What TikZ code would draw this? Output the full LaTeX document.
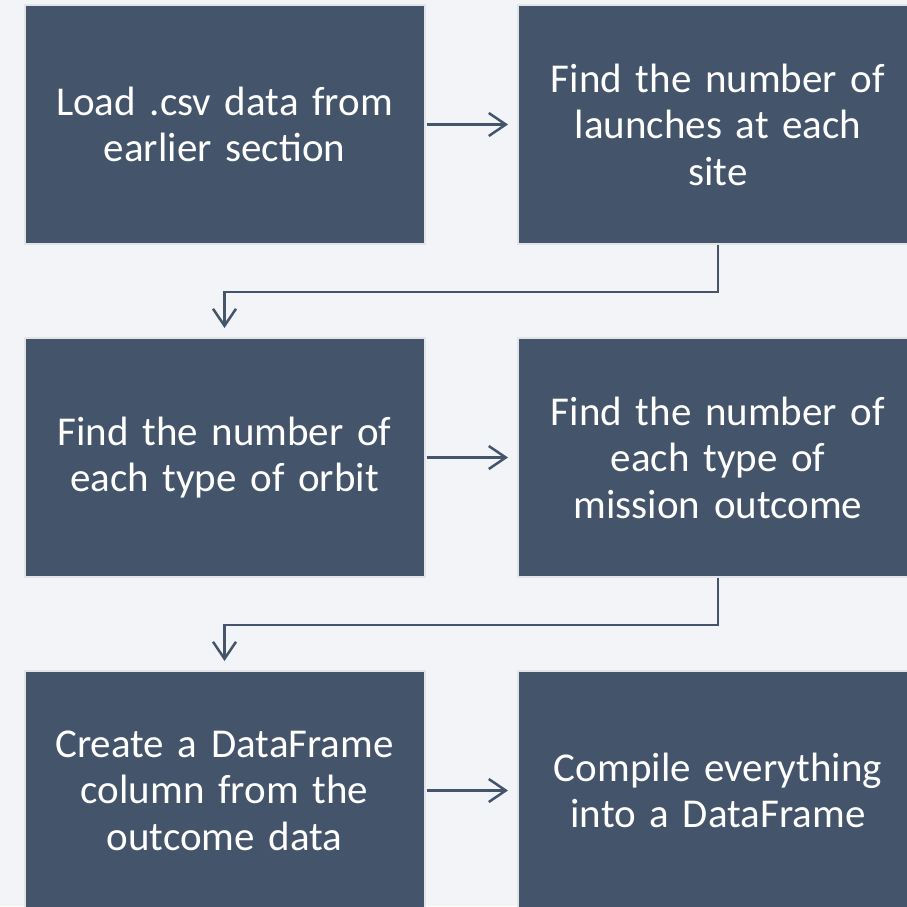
\documentclass[tikz,border=0pt]{standalone}
\usepackage{fontspec}
\setmainfont{Carlito}
\usetikzlibrary{arrows.meta}
\definecolor{bg}{HTML}{F2F4F8}
\definecolor{boxc}{HTML}{44546A}
\definecolor{edgec}{HTML}{E2E4E8}
\tikzset{
  box/.style={rectangle, fill=boxc, draw=edgec, line width=2pt, minimum width=400pt, minimum height=239pt, inner sep=0pt,
    text=white, align=center, text width=390pt, font=\fontsize{41}{46.5}\selectfont},
  conn/.style={draw=boxc, line width=2.5pt, -{Straight Barb[length=17pt,width=23pt,line width=2.5pt]}},
}
\begin{document}
\begin{tikzpicture}[x=1pt,y=1pt]
\fill[bg] (0,0) rectangle (907,-906);
\useasboundingbox (0,0) rectangle (907,-906);
\clip (0,0) rectangle (907,-906);
\node[box] (a) at (224.5,-124.5) {Load .csv data from\\earlier section};
\node[box] (b) at (718,-124.5) {Find the number of\\launches at each\\site};
\node[box] (c) at (224.5,-457.5) {Find the number of\\each type of orbit};
\node[box] (d) at (718,-457.5) {Find the number of\\each type of\\mission outcome};
\node[box] (e) at (224.5,-790.5) {Create a DataFrame\\column from the\\outcome data};
\node[box] (f) at (718,-790.5) {Compile everything\\into a DataFrame};
\draw[conn, shorten <=1pt, shorten >=9pt] (a) -- (b);
\draw[conn, shorten <=1pt, shorten >=9pt] (c) -- (d);
\draw[conn, shorten <=1pt, shorten >=9pt] (e) -- (f);
\draw[conn, shorten >=9pt] (b.south) -- ++(0,-47) -| (c.north);
\draw[conn, shorten >=9pt] (d.south) -- ++(0,-47) -| (e.north);
\end{tikzpicture}
\end{document}
